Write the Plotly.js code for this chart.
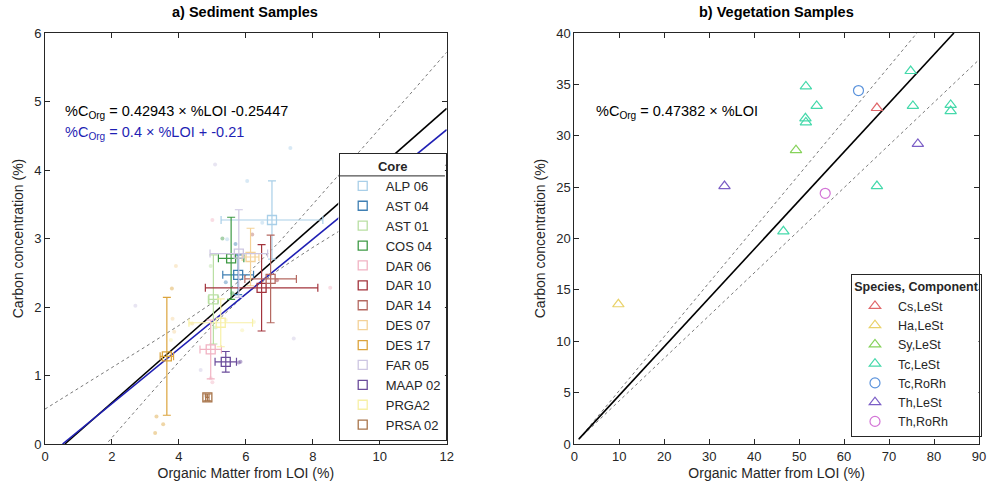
<!DOCTYPE html>
<html>
<head>
<meta charset="utf-8">
<script src="https://cdn.plot.ly/plotly-3.0.1.min.js"></script>
<style>html,body{margin:0;padding:0;background:#fff;}#chart{width:987px;height:487px;}</style>
</head>
<body>
<div id="chart"></div>
<script>
// ---------- Panel a: sediment cores (means with error bars) ----------
const cores = ["ALP 06","AST 04","AST 01","COS 04","DAR 06","DAR 10","DAR 14","DES 07","DES 17","FAR 05","MAAP 02","PRGA2","PRSA 02"];
const coreLOI = [6.78, 5.77, 5.03, 5.56, 4.95, 6.47, 6.74, 6.14, 3.64, 5.79, 5.40, 5.25, 4.85];
const coreC   = [3.27, 2.47, 2.11, 2.71, 1.38, 2.28, 2.41, 2.73, 1.28, 2.78, 1.20, 1.77, 0.68];
const coreLOIerr = [1.52, 0.46, 0.15, 0.38, 0.32, 1.68, 0.77, 0.25, 0.20, 0.86, 0.32, 0.95, 0.05];
const coreCerr   = [0.57, 0.29, 0.65, 0.60, 0.43, 0.63, 0.64, 0.42, 0.86, 0.64, 0.15, 0.35, 0.05];
const coreColors = ["#a9cfe8","#3f7fb3","#b9dfa3","#3f9a45","#f1b3c3","#a3343d","#b56a62","#f4d298","#dca43c","#cdc6e2","#6b4c9b","#f7f0a6","#a8744a"];

// individual (faint) samples per core
const rawLOI = [
  [6.04, 6.49, 7.33, 5.44],
  [5.69, 5.40],
  [4.95, 5.10],
  [5.30, 5.60],
  [5.00, 8.52, 4.95, 5.00],
  [6.93],
  [6.19],
  [3.91, 3.81, 3.86, 4.40],
  [3.33, 3.53, 3.29, 3.79],
  [5.08, 7.43, 2.70, 4.65],
  [5.84, 5.79],
  [4.35, 5.89, 6.24, 5.40, 3.76],
  [4.82]
];
const rawC = [
  [3.84, 3.23, 4.32, 2.99],
  [2.92, 2.36],
  [2.60, 1.70],
  [3.00, 2.20],
  [3.27, 2.28, 0.96, 0.90],
  [2.39],
  [3.06],
  [2.60, 1.83, 1.64, 1.76],
  [0.40, 0.29, 0.16, 2.27],
  [4.08, 1.54, 2.02, 1.08],
  [1.20, 1.19],
  [1.76, 1.66, 1.78, 1.81, 1.52],
  [0.70]
];

// fitted relations (coefficients as printed on the chart)
const fitSlopeA = 0.42943, fitInterA = -0.25447;
const fitSlopeB = 0.4, fitInterB = -0.21;
const fitRangeA = [0.593, 12];
const fitRangeB = [0.525, 12];
// dotted bounds
const boundX = [0, 1, 2, 3, 4, 5, 6, 7, 8, 9, 10, 11, 12];
const boundUp = [0.51, 0.81, 1.12, 1.42, 1.73, 2.06, 2.46, 2.95, 3.50, 4.05, 4.60, 5.16, 5.72];
const boundLo = [-1.02, -0.46, 0.09, 0.65, 1.20, 1.73, 2.19, 2.55, 2.87, 3.17, 3.48, 3.78, 4.08];

// ---------- Panel b: vegetation samples ----------
const species = ["Cs,LeSt","Ha,LeSt","Sy,LeSt","Tc,LeSt","Tc,RoRh","Th,LeSt","Th,RoRh"];
const speciesSymbols = ["triangle-up-open","triangle-up-open","triangle-up-open","triangle-up-open","circle-open","triangle-up-open","circle-open"];
const speciesColors = ["#e0676b","#e9d26a","#86d25a","#45d9ab","#5b93dc","#7b5ec6","#d374d6"];
const vegLOI = [
  [67.3],
  [9.8],
  [49.3],
  [74.8, 51.5, 53.9, 51.4, 51.5, 75.3, 83.7, 83.7, 67.3, 46.5],
  [63.2],
  [33.4, 76.4],
  [55.8]
];
const vegC = [
  [32.7],
  [13.6],
  [28.6],
  [36.3, 34.8, 32.9, 31.7, 31.3, 32.9, 33.0, 32.4, 25.1, 20.7],
  [34.4],
  [25.1, 29.2],
  [24.4]
];
const vegSlope = 0.47382;
const vegFitRange = [1, 84.42];
const vegUpX = [1, 76.2], vegUpY = [0.47, 40];
const vegLoX = [1, 90], vegLoY = [0.47, 37.4];

// ---------- build traces ----------
const traces = [];
const FONT = "Liberation Sans, Arial, sans-serif";

cores.forEach((c, i) => {
  traces.push({
    type: "scatter", mode: "markers", x: rawLOI[i], y: rawC[i],
    xaxis: "x", yaxis: "y", showlegend: false, hoverinfo: "skip",
    marker: {size: 4, color: coreColors[i], opacity: 0.45}
  });
});

traces.push({type:"scatter", mode:"lines", x: boundX, y: boundUp, xaxis:"x", yaxis:"y", showlegend:false,
  line:{color:"#555", width:0.8, dash:"dot"}});
traces.push({type:"scatter", mode:"lines", x: boundX, y: boundLo, xaxis:"x", yaxis:"y", showlegend:false,
  line:{color:"#555", width:0.8, dash:"dot"}});
traces.push({type:"scatter", mode:"lines", x: fitRangeA, y: fitRangeA.map(v => fitSlopeA*v + fitInterA),
  xaxis:"x", yaxis:"y", showlegend:false, line:{color:"#000", width:1.6}});
traces.push({type:"scatter", mode:"lines", x: fitRangeB, y: fitRangeB.map(v => fitSlopeB*v + fitInterB),
  xaxis:"x", yaxis:"y", showlegend:false, line:{color:"#1f1fb4", width:1.6}});

cores.forEach((c, i) => {
  traces.push({
    type: "scatter", mode: "markers", name: c, x: [coreLOI[i]], y: [coreC[i]],
    xaxis: "x", yaxis: "y", legend: "legend",
    marker: {symbol: "square-open", size: 9, color: coreColors[i], line: {width: 1.3, color: coreColors[i]}},
    error_x: {type: "data", array: [coreLOIerr[i]], color: coreColors[i], thickness: 1.2, width: 4},
    error_y: {type: "data", array: [coreCerr[i]], color: coreColors[i], thickness: 1.2, width: 4}
  });
});

traces.push({type:"scatter", mode:"lines", x: vegUpX, y: vegUpY, xaxis:"x2", yaxis:"y2", showlegend:false,
  line:{color:"#555", width:0.8, dash:"dot"}});
traces.push({type:"scatter", mode:"lines", x: vegLoX, y: vegLoY, xaxis:"x2", yaxis:"y2", showlegend:false,
  line:{color:"#555", width:0.8, dash:"dot"}});
traces.push({type:"scatter", mode:"lines", x: vegFitRange, y: vegFitRange.map(v => vegSlope*v),
  xaxis:"x2", yaxis:"y2", showlegend:false, line:{color:"#000", width:1.6}});

species.forEach((s, i) => {
  traces.push({
    type: "scatter", mode: "markers", name: s, x: vegLOI[i], y: vegC[i],
    xaxis: "x2", yaxis: "y2", legend: "legend2",
    marker: {symbol: speciesSymbols[i], size: 10, color: speciesColors[i], line: {width: 1.2, color: speciesColors[i]}}
  });
});

// ---------- layout ----------
const W = 987, H = 487, ML = 45, MR = 5, MT = 33, MB = 43;
const PW = W - ML - MR, PH = H - MT - MB;
const px = v => (v - ML) / PW;
const py = v => (H - MB - v) / PH;

const axisCommon = {
  showline: true, linecolor: "#262626", linewidth: 1, mirror: "ticks",
  ticks: "inside", ticklen: 5, tickcolor: "#262626", showgrid: false, zeroline: false,
  tickfont: {family: FONT, size: 13, color: "#262626"}
};

const layout = {
  width: W, height: H,
  margin: {l: ML, r: MR, t: MT, b: MB},
  paper_bgcolor: "#fff", plot_bgcolor: "#fff",
  font: {family: FONT, color: "#262626"},
  xaxis: Object.assign({}, axisCommon, {domain: [0, px(448)], range: [0, 12], dtick: 2, anchor: "y",
    title: {text: "Organic Matter from LOI (%)", font: {family: FONT, size: 14}, standoff: 5}}),
  yaxis: Object.assign({}, axisCommon, {domain: [0, 1], range: [0, 6], dtick: 1, anchor: "x",
    title: {text: "Carbon concentration (%)", font: {family: FONT, size: 14}, standoff: 7}}),
  xaxis2: Object.assign({}, axisCommon, {domain: [px(576), 1], range: [0, 90], dtick: 10, anchor: "y2",
    title: {text: "Organic Matter from LOI (%)", font: {family: FONT, size: 14}, standoff: 5}}),
  yaxis2: Object.assign({}, axisCommon, {domain: [0, 1], range: [0, 40], dtick: 5, anchor: "x2",
    title: {text: "Carbon concentration (%)", font: {family: FONT, size: 14}, standoff: 7}}),
  legend: {
    x: px(448), xanchor: "right", y: py(441), yanchor: "bottom",
    bgcolor: "rgba(255,255,255,0)", bordercolor: "#262626", borderwidth: 1,
    font: {family: FONT, size: 13, color: "#262626"},
    title: {text: "<b>Core</b>", side: "top center", font: {family: FONT, size: 13}},
    tracegroupgap: 0, itemwidth: 36
  },
  legend2: {
    x: px(985), xanchor: "right", y: py(437), yanchor: "bottom",
    bgcolor: "rgba(255,255,255,0)", bordercolor: "#262626", borderwidth: 1,
    font: {family: FONT, size: 12.5, color: "#262626"},
    title: {text: "<b>Species, Component</b>", side: "top center", font: {family: FONT, size: 12.5}},
    tracegroupgap: 0, itemwidth: 36
  },
  annotations: [
    {xref: "paper", yref: "paper", x: px(246), y: py(12), text: "<b>a) Sediment Samples</b>", showarrow: false,
      font: {family: FONT, size: 14.5, color: "#000"}, xanchor: "center", yanchor: "middle"},
    {xref: "paper", yref: "paper", x: px(779), y: py(12), text: "<b>b) Vegetation Samples</b>", showarrow: false,
      font: {family: FONT, size: 14.5, color: "#000"}, xanchor: "center", yanchor: "middle"},
    {xref: "paper", yref: "paper", x: px(63), y: py(112), text: "%C<sub>Org</sub> = 0.42943 × %LOI -0.25447", showarrow: false,
      font: {family: FONT, size: 14.5, color: "#000"}, xanchor: "left", yanchor: "middle"},
    {xref: "paper", yref: "paper", x: px(63), y: py(133), text: "%C<sub>Org</sub> = 0.4 × %LOI + -0.21", showarrow: false,
      font: {family: FONT, size: 14.5, color: "#1f1fb4"}, xanchor: "left", yanchor: "middle"},
    {xref: "paper", yref: "paper", x: px(596), y: py(112), text: "%C<sub>Org</sub> = 0.47382 × %LOI", showarrow: false,
      font: {family: FONT, size: 14.5, color: "#000"}, xanchor: "left", yanchor: "middle"}
  ]
};

const gd = document.getElementById("chart");
Plotly.newPlot(gd, traces, layout, {displayModeBar: false, staticPlot: true}).then(() => {
  // white box behind each legend, and a rule under its title (like the original figure)
  const base = gd.getBoundingClientRect();
  const shapes = [];
  ["legend", "legend2"].forEach(id => {
    const g = gd.querySelector("g." + id);
    if (!g) return;
    const bg = g.querySelector("rect.bg");
    const tt = g.querySelector(".legendtitletext");
    if (!bg) return;
    const r = bg.getBoundingClientRect();
    const x0 = r.left - base.left, x1 = r.right - base.left;
    const y0 = r.top - base.top, y1 = r.bottom - base.top;
    shapes.push({type: "rect", xref: "paper", yref: "paper", layer: "above",
      x0: px(x0), x1: px(x1), y0: py(y1), y1: py(y0),
      fillcolor: "#fff", line: {width: 0}});
    if (tt) {
      const t = tt.getBoundingClientRect();
      const yl = t.bottom - base.top + 2;
      shapes.push({type: "line", xref: "paper", yref: "paper", layer: "above",
        x0: px(x0), x1: px(x1), y0: py(yl), y1: py(yl),
        line: {color: "#262626", width: 1}});
    }
  });
  return Plotly.relayout(gd, {shapes: shapes});
});
</script>
</body>
</html>
